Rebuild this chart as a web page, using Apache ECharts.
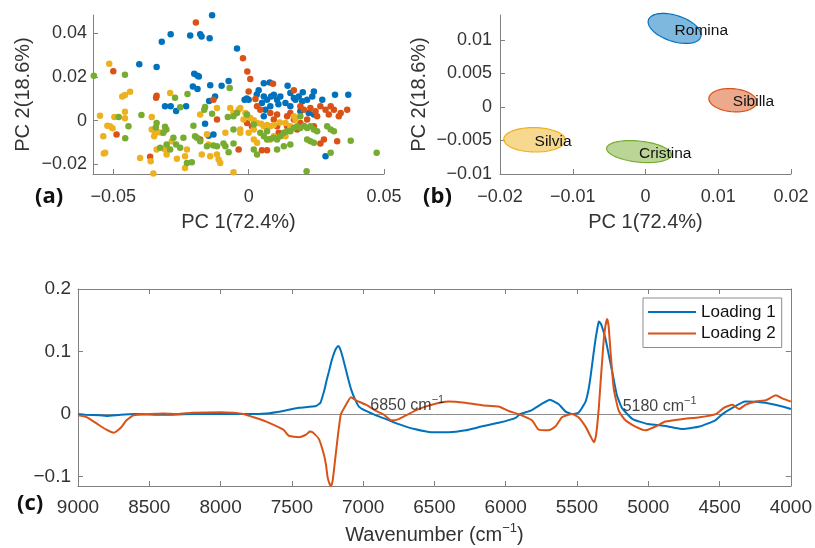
<!DOCTYPE html>
<html><head><meta charset="utf-8">
<script src="https://cdn.jsdelivr.net/npm/echarts@6/dist/echarts.min.js"></script>
<style>html,body{margin:0;padding:0;background:#fff}#c{width:815px;height:548px}</style>
</head><body><div id="c"></div>
<script>
// ---------- Panel (a): PCA scores ----------
const groupNames = ['Romina','Sibilla','Silvia','Cristina'];
const groupColors = ['#0072BD','#D95319','#EDB120','#77AC30'];
const scoresRomina = [[-0.0135,0.0484],[-0.0288,0.0397],[-0.0321,0.0362],[-0.0216,0.0391],[-0.0179,0.0397],[-0.0174,0.0386],[-0.0144,0.0378],[-0.0043,0.0331],[-0.0404,0.0259],[-0.0340,0.0246],[-0.0201,0.0215],[-0.0189,0.0206],[-0.0184,0.0203],[-0.0074,0.0182],[-0.0206,0.0157],[-0.0189,0.0145],[-0.0142,0.0163],[-0.0100,0.0160],[-0.0007,0.0102],[0.0000,0.0096],[-0.0015,0.0096],[-0.0124,0.0111],[-0.0146,0.0090],[-0.0309,0.0066],[-0.0288,0.0066],[-0.0268,0.0044],[-0.0231,0.0066],[-0.0161,-0.0014],[-0.0130,-0.0064],[-0.0148,-0.0069],[0.0037,0.0139],[0.0056,0.0172],[0.0078,0.0175],[0.0056,0.0111],[0.0068,0.0096],[0.0083,0.0111],[0.0093,0.0119],[0.0049,0.0081],[0.0062,0.0050],[0.0080,0.0066],[0.0105,0.0096],[0.0117,0.0111],[0.0144,0.0160],[0.0154,0.0127],[0.0167,0.0104],[0.0173,0.0096],[0.0185,0.0111],[0.0198,0.0089],[0.0216,0.0096],[0.0235,0.0111],[0.0241,0.0134],[0.0272,0.0096],[0.0319,0.0119],[0.0368,0.0119],[0.0222,0.0035],[0.0241,0.0028],[0.0191,0.0043],[0.0136,0.0081],[0.0154,0.0066],[0.0284,-0.0163],[0.0056,0.0020],[0.0030,0.0120],[0.0110,0.0075],[0.0200,0.0130]];
const scoresSibilla = [[-0.0195,0.0450],[-0.0021,0.0287],[-0.0005,0.0226],[0.0006,0.0191],[0.0090,0.0169],[0.0167,0.0139],[0.0000,0.0134],[0.0025,0.0099],[-0.0340,0.0114],[-0.0500,0.0227],[-0.0342,0.0105],[-0.0488,-0.0064],[-0.0364,-0.0166],[-0.0130,0.0096],[0.0031,0.0066],[0.0043,0.0050],[0.0080,0.0035],[0.0105,0.0028],[0.0142,0.0020],[0.0191,0.0066],[0.0204,0.0050],[0.0228,0.0058],[0.0247,0.0043],[0.0265,0.0066],[0.0284,0.0050],[0.0303,0.0066],[0.0315,0.0050],[0.0340,0.0035],[0.0364,0.0050],[0.0167,0.0005],[0.0191,-0.0011],[0.0216,0.0005],[0.0241,-0.0026],[0.0142,-0.0026],[0.0105,-0.0026],[-0.0006,-0.0011],[0.0012,-0.0026],[-0.0037,-0.0133],[0.0049,-0.0136],[0.0068,-0.0136],[0.0179,-0.0041],[0.0278,-0.0087],[0.0327,-0.0095],[-0.0117,0.0005],[-0.0179,-0.0087],[0.0265,-0.0105],[0.0111,-0.0056],[0.0253,0.0020],[0.0296,0.0028],[0.0333,0.0020],[0.0093,0.0005],[0.0154,0.0035]];
const scoresSilvia = [[-0.0515,0.0261],[-0.0467,0.0111],[-0.0457,0.0118],[-0.0438,0.0133],[-0.0549,0.0023],[-0.0522,-0.0023],[-0.0512,-0.0026],[-0.0503,-0.0035],[-0.0537,-0.0072],[-0.0530,-0.0148],[-0.0535,-0.0151],[-0.0496,0.0017],[-0.0457,0.0041],[-0.0457,0.0011],[-0.0358,0.0017],[-0.0358,-0.0041],[-0.0349,-0.0072],[-0.0333,-0.0053],[-0.0401,-0.0171],[-0.0362,-0.0186],[-0.0352,-0.0243],[-0.0346,-0.0056],[-0.0303,-0.0041],[-0.0290,0.0127],[-0.0235,-0.0217],[-0.0179,0.0028],[-0.0117,0.0058],[-0.0068,0.0058],[-0.0056,0.0035],[-0.0037,0.0050],[-0.0031,0.0058],[-0.0012,0.0035],[-0.0006,0.0020],[0.0006,0.0012],[0.0019,0.0002],[0.0031,-0.0011],[0.0046,-0.0014],[0.0056,-0.0026],[0.0068,-0.0020],[0.0080,-0.0026],[0.0093,-0.0020],[0.0115,-0.0008],[0.0136,-0.0011],[0.0154,-0.0026],[0.0167,0.0020],[0.0173,0.0005],[0.0019,-0.0041],[0.0019,-0.0087],[0.0031,-0.0102],[0.0080,-0.0087],[0.0093,-0.0072],[-0.0117,-0.0156],[-0.0105,-0.0194],[-0.0111,-0.0179],[-0.0056,-0.0237],[-0.0142,-0.0163],[-0.0148,-0.0110],[-0.0173,-0.0156],[-0.0228,-0.0133],[-0.0235,-0.0163],[-0.0265,-0.0175],[-0.0303,-0.0156],[-0.0309,-0.0133],[-0.0154,-0.0063],[-0.0086,-0.0056],[-0.0031,-0.0041],[-0.0031,-0.0056],[-0.0019,0.0005],[0.0000,-0.0056],[0.0136,-0.0072],[-0.0303,-0.0118],[-0.0284,-0.0095],[-0.0340,-0.0133],[-0.0321,-0.0056]];
const scoresCristina = [[-0.0572,0.0206],[-0.0457,0.0211],[-0.0444,-0.0026],[-0.0456,-0.0081],[-0.0480,0.0017],[-0.0396,0.0026],[-0.0343,-0.0031],[-0.0340,-0.0011],[-0.0309,-0.0028],[-0.0306,-0.0041],[-0.0315,-0.0056],[-0.0278,-0.0079],[-0.0272,0.0105],[-0.0253,0.0061],[-0.0226,0.0122],[-0.0161,0.0063],[-0.0164,0.0050],[-0.0135,0.0032],[-0.0077,0.0017],[-0.0070,0.0150],[-0.0056,0.0020],[-0.0056,-0.0041],[-0.0043,0.0035],[-0.0006,0.0028],[-0.0154,-0.0118],[-0.0204,-0.0023],[-0.0198,-0.0072],[-0.0191,-0.0078],[-0.0179,-0.0095],[-0.0241,-0.0079],[-0.0268,-0.0110],[-0.0290,-0.0133],[-0.0253,-0.0125],[-0.0303,-0.0110],[-0.0327,-0.0125],[-0.0228,-0.0194],[-0.0210,-0.0191],[-0.0158,-0.0247],[-0.0130,-0.0114],[-0.0117,-0.0118],[-0.0093,-0.0105],[-0.0086,-0.0118],[-0.0074,-0.0145],[-0.0056,-0.0105],[0.0019,-0.0133],[0.0031,-0.0156],[0.0043,-0.0056],[0.0056,-0.0072],[0.0068,-0.0087],[0.0080,-0.0084],[0.0093,-0.0079],[0.0105,-0.0087],[0.0117,-0.0072],[0.0130,-0.0056],[0.0142,-0.0049],[0.0154,-0.0049],[0.0167,-0.0034],[0.0179,-0.0026],[0.0191,-0.0034],[0.0204,-0.0023],[0.0216,-0.0034],[0.0228,-0.0026],[0.0241,-0.0041],[0.0253,-0.0049],[0.0290,-0.0026],[0.0303,-0.0041],[0.0315,-0.0049],[0.0377,-0.0092],[0.0473,-0.0148],[0.0214,-0.0232],[0.0303,-0.0148],[0.0130,-0.0118],[0.0105,-0.0133],[0.0191,0.0020],[0.0154,-0.0110],[0.0216,-0.0087],[0.0228,-0.0095],[0.0241,-0.0102],[0.0068,-0.0049],[0.0019,-0.0018]];
const scoreGroups = [scoresRomina, scoresSibilla, scoresSilvia, scoresCristina];

// ---------- Panel (b): group ellipses ----------
// [centre PC1, centre PC2, semi-axis (PC1 units), semi-axis (PC2 units), tilt deg]
const ellipseRomina   = [0.0040, 0.0117, 0.00378, 0.00194, 18];
const ellipseSibilla  = [0.0120, 0.0010, 0.00330, 0.00172, 5];
const ellipseSilvia   = [-0.01525, -0.0049, 0.00424, 0.00182, 1];
const ellipseCristina = [-0.0009, -0.00666, 0.00447, 0.00157, 6];
const ellipses = [ellipseRomina, ellipseSibilla, ellipseSilvia, ellipseCristina];

// ---------- Panel (c): loadings ----------
const load1Wave = [9000,8950,8850,8800,8700,8600,8400,8200,8000,7800,7680,7560,7450,7330,7300,7285,7270,7255,7240,7225,7215,7200,7190,7175,7165,7155,7140,7120,7100,7085,7060,7030,6980,6910,6840,6750,6640,6520,6400,6280,6170,6050,5930,5900,5820,5750,5690,5630,5580,5535,5490,5440,5420,5405,5385,5370,5355,5347,5335,5325,5300,5275,5255,5220,5185,5110,5000,4880,4760,4640,4530,4480,4410,4320,4180,4060,4000];
const load1Val  = [0,-0.001,-0.002,-0.003,-0.001,0,-0.001,0,0,0,0.001,0.005,0.010,0.013,0.018,0.028,0.040,0.055,0.068,0.082,0.090,0.100,0.105,0.109,0.106,0.100,0.088,0.070,0.052,0.040,0.025,0.012,0.005,-0.002,-0.008,-0.016,-0.024,-0.029,-0.029,-0.026,-0.020,-0.014,-0.006,0,0.006,0.016,0.023,0.016,0.004,0,0.002,0.020,0.038,0.060,0.095,0.120,0.140,0.148,0.145,0.140,0.120,0.092,0.070,0.030,0.010,-0.008,-0.016,-0.019,-0.024,-0.020,-0.010,0,0.010,0.020,0.018,0.012,0.008];
const load2Wave = [9000,8940,8870,8800,8750,8700,8660,8610,8500,8400,8300,8200,8000,7913,7840,7770,7680,7560,7520,7450,7400,7375,7350,7310,7275,7260,7250,7238,7226,7215,7205,7190,7180,7168,7156,7120,7086,7050,6980,6910,6860,6800,6750,6683,6612,6519,6402,6284,6167,6050,5980,5910,5816,5769,5700,5652,5605,5535,5490,5440,5406,5382,5370,5359,5347,5335,5322,5312,5300,5289,5278,5265,5242,5207,5160,5090,5019,4950,4880,4760,4640,4527,4470,4410,4363,4316,4246,4176,4105,4060,4000];
const load2Val  = [-0.002,-0.005,-0.015,-0.025,-0.030,-0.022,-0.010,-0.002,0,0.001,0,0.002,0.003,0.002,0,-0.005,-0.012,-0.025,-0.035,-0.037,-0.033,-0.028,-0.030,-0.040,-0.065,-0.082,-0.100,-0.110,-0.115,-0.108,-0.090,-0.060,-0.040,-0.018,0,0.015,0.027,0.022,0.015,0.005,0,-0.010,-0.008,0,0.008,0.015,0.020,0.018,0.014,0.012,0.005,0,-0.010,-0.025,-0.026,-0.020,-0.005,0,-0.005,-0.020,-0.035,-0.045,-0.038,-0.020,0.010,0.050,0.090,0.120,0.142,0.152,0.140,0.100,0.040,0.005,-0.010,-0.020,-0.026,-0.020,-0.012,-0.008,-0.005,0,0.010,0.015,0.008,0.015,0.020,0.022,0.030,0.025,0.020];
const annoWave = [6950, 5180];
const annoVal  = [0.013, 0.012];
const annoText = ['6850', '5180'];

const xTicksA = [-0.05, 0, 0.05];
const yTicksA = [-0.02, 0, 0.02, 0.04];
const xTicksB = [-0.02, -0.01, 0, 0.01, 0.02];
const yTicksB = [-0.01, -0.005, 0, 0.005, 0.01];
const yTicksC = [-0.1, 0, 0.1, 0.2];

const FONT = 'Liberation Sans';
const AXC = '#808080';
const TXT = '#333333';
const fmt = v => String(v).replace('-', '\u2212');

function valAxis(grid, min, max, ticks, extra) {
  return Object.assign({
    type: 'value', gridIndex: grid, min: min, max: max,
    axisLine: { show: true, onZero: false, lineStyle: { color: AXC, width: 1 } },
    axisTick: { show: true, inside: true, length: 5, customValues: ticks, lineStyle: { color: AXC } },
    axisLabel: { show: true, customValues: ticks, formatter: fmt, color: TXT, fontFamily: FONT, fontSize: 18 },
    splitLine: { show: false },
    nameTextStyle: { color: TXT, fontFamily: FONT, fontSize: 20 },
    nameLocation: 'middle'
  }, extra || {});
}

const chart = echarts.init(document.getElementById('c'), null, { renderer: 'canvas' });

const series = [];
scoreGroups.forEach((g, i) => {
  series.push({
    type: 'scatter', name: groupNames[i], xAxisIndex: 0, yAxisIndex: 0,
    data: g, symbol: 'circle', symbolSize: 6.5,
    itemStyle: { color: groupColors[i], opacity: 1 }, silent: true, z: 2 + i
  });
});

series.push({
  type: 'custom', xAxisIndex: 1, yAxisIndex: 1, silent: true,
  data: ellipses,
  encode: { x: 0, y: 1 },
  clip: false,
  renderItem: function (params, api) {
    const idx = params.dataIndex;
    const c = api.coord([api.value(0), api.value(1)]);
    const s = api.size([api.value(2), api.value(3)]);
    const a = Math.abs(s[0]), b = Math.abs(s[1]);
    const ang = api.value(4) * Math.PI / 180;
    const pts = [];
    for (let k = 0; k < 90; k++) {
      const t = k / 90 * 2 * Math.PI;
      const ex = a * Math.cos(t), ey = b * Math.sin(t);
      pts.push([c[0] + ex * Math.cos(ang) - ey * Math.sin(ang), c[1] + ex * Math.sin(ang) + ey * Math.cos(ang)]);
    }
    const col = groupColors[idx];
    return {
      type: 'group',
      children: [
        { type: 'polygon', shape: { points: pts }, style: { fill: col, opacity: 0.5, stroke: null } },
        { type: 'polygon', shape: { points: pts }, style: { fill: null, stroke: col, lineWidth: 1.2 } },
        { type: 'text', x: c[0], y: c[1] + 2, style: { text: groupNames[idx], fill: '#111', font: '15.5px ' + FONT, align: 'left', verticalAlign: 'middle' } }
      ]
    };
  }
});

const lineCols = ['#0072BD', '#D95319'];
series.push({
  type: 'line', name: 'Loading 1', xAxisIndex: 2, yAxisIndex: 2,
  data: load1Wave.map((w, i) => [w, load1Val[i]]),
  showSymbol: false, smooth: 0.15, lineStyle: { color: lineCols[0], width: 2 }, itemStyle: { color: lineCols[0] },
  silent: true, z: 3,
  markLine: { silent: true, symbol: 'none', label: { show: false }, lineStyle: { color: '#8c8c8c', width: 1, type: 'solid' }, data: [{ yAxis: 0 }], z: 1 }
});
series.push({
  type: 'line', name: 'Loading 2', xAxisIndex: 2, yAxisIndex: 2,
  data: load2Wave.map((w, i) => [w, load2Val[i]]),
  showSymbol: false, smooth: 0.15, lineStyle: { color: lineCols[1], width: 2 }, itemStyle: { color: lineCols[1] },
  silent: true, z: 4
});
series.push({
  type: 'scatter', xAxisIndex: 2, yAxisIndex: 2, symbolSize: 0, silent: true, z: 6,
  data: annoWave.map((w, i) => ({ value: [w, annoVal[i]], txt: annoText[i] })),
  label: {
    show: true, position: 'right', distance: 0,
    formatter: p => '{t|' + p.data.txt + ' cm}{s|\u22121}',
    rich: {
      t: { fontFamily: FONT, fontSize: 16, color: '#111', lineHeight: 22 },
      s: { fontFamily: FONT, fontSize: 11, color: '#111', verticalAlign: 'top', lineHeight: 22 }
    }
  }
});

const option = {
  animation: false,
  backgroundColor: '#fff',
  grid: [
    { left: 93, top: 15, width: 291, height: 159 },
    { left: 500, top: 15, width: 291, height: 159 },
    { left: 78, top: 289, width: 715, height: 197 }
  ],
  xAxis: [
    valAxis(0, -0.0575, 0.05, xTicksA, { name: 'PC 1(72.4%)', nameGap: 38, axisLabel: { customValues: xTicksA, formatter: fmt, color: TXT, fontFamily: FONT, fontSize: 18, margin: 14 } }),
    valAxis(1, -0.02, 0.02, xTicksB, { name: 'PC 1(72.4%)', nameGap: 38, axisLabel: { customValues: xTicksB, formatter: fmt, color: TXT, fontFamily: FONT, fontSize: 18, margin: 14 } }),
    {
      type: 'value', gridIndex: 2, min: 4000, max: 9000, interval: 500, inverse: true, position: 'bottom',
      axisLine: { show: true, onZero: false, lineStyle: { color: AXC } },
      axisTick: { show: true, inside: true, length: 5, lineStyle: { color: AXC } },
      axisLabel: { color: TXT, fontFamily: FONT, fontSize: 19, margin: 12, formatter: v => String(v) },
      splitLine: { show: false },
      name: '{a|Wavenumber (cm}{s|\u22121}{a|)}', nameLocation: 'middle', nameGap: 36,
      nameTextStyle: { rich: { a: { fontFamily: FONT, fontSize: 20, color: TXT, lineHeight: 26 }, s: { fontFamily: FONT, fontSize: 13, color: TXT, verticalAlign: 'top', lineHeight: 26 } } }
    },
    {
      type: 'value', gridIndex: 2, min: 4000, max: 9000, interval: 500, inverse: true, position: 'top',
      axisLine: { show: true, onZero: false, lineStyle: { color: AXC } },
      axisTick: { show: true, inside: true, length: 5, lineStyle: { color: AXC } },
      axisLabel: { show: false }, splitLine: { show: false }
    }
  ],
  yAxis: [
    valAxis(0, -0.0245, 0.0485, yTicksA, { name: 'PC 2(18.6%)', nameGap: 60, axisLabel: { customValues: yTicksA, formatter: fmt, color: TXT, fontFamily: FONT, fontSize: 18, margin: 6 } }),
    valAxis(1, -0.01, 0.0137, yTicksB, { name: 'PC 2(18.6%)', nameGap: 71, axisLabel: { customValues: yTicksB, formatter: fmt, color: TXT, fontFamily: FONT, fontSize: 18, margin: 8 } }),
    valAxis(2, -0.115, 0.2, yTicksC, { axisLabel: { customValues: yTicksC, formatter: fmt, color: TXT, fontFamily: FONT, fontSize: 19, margin: 7 } }),
    valAxis(2, -0.115, 0.2, yTicksC, { position: 'right', axisLabel: { show: false } })
  ],
  legend: {
    data: ['Loading 1', 'Loading 2'],
    left: 643, top: 298, orient: 'vertical',
    icon: 'rect', itemWidth: 48, itemHeight: 2, itemGap: 1.5,
    padding: [4, 6, 4, 5],
    backgroundColor: '#fff', borderColor: '#8c8c8c', borderWidth: 1,
    textStyle: { fontFamily: FONT, fontSize: 17, color: '#111', lineHeight: 20 },
    selectedMode: false
  },
  graphic: [
    { type: 'text', left: 35, top: 186, style: { text: '(a)', font: 'bold 22px "Open Sans"', fill: '#111' } },
    { type: 'text', left: 423, top: 186, style: { text: '(b)', font: 'bold 22px "Open Sans"', fill: '#111' } },
    { type: 'text', left: 17, top: 493, style: { text: '(c)', font: 'bold 22px "Open Sans"', fill: '#111' } }
  ],
  series: series
};
chart.setOption(option);
</script></body></html>
